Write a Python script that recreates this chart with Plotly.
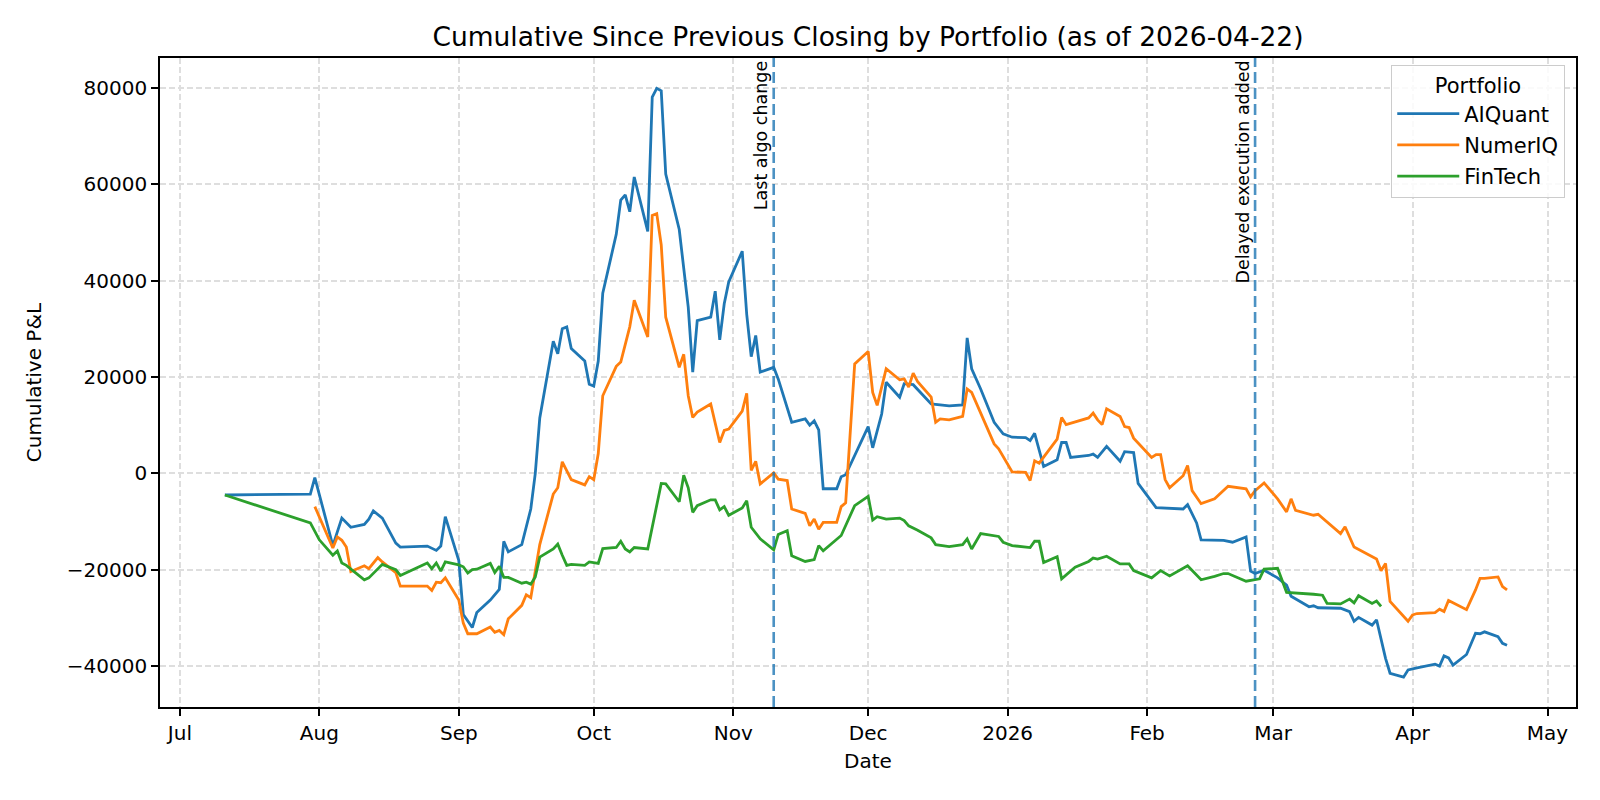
import plotly.graph_objects as go

# ---- data ----
aiquant_dates = [
    "2025-07-11", "2025-07-30", "2025-07-31", "2025-08-04", "2025-08-06", "2025-08-08", "2025-08-11",
    "2025-08-12", "2025-08-13", "2025-08-15", "2025-08-18", "2025-08-19", "2025-08-25", "2025-08-27",
    "2025-08-28", "2025-08-29", "2025-09-01", "2025-09-02", "2025-09-04", "2025-09-05", "2025-09-08",
    "2025-09-10", "2025-09-11", "2025-09-12", "2025-09-15", "2025-09-17", "2025-09-18", "2025-09-19",
    "2025-09-22", "2025-09-23", "2025-09-24", "2025-09-25", "2025-09-26", "2025-09-29", "2025-09-30",
    "2025-10-01", "2025-10-02", "2025-10-03", "2025-10-06", "2025-10-07", "2025-10-08", "2025-10-09",
    "2025-10-10", "2025-10-13", "2025-10-14", "2025-10-15", "2025-10-16", "2025-10-17", "2025-10-20",
    "2025-10-21", "2025-10-22", "2025-10-23", "2025-10-24", "2025-10-27", "2025-10-28", "2025-10-29",
    "2025-10-30", "2025-10-31", "2025-11-03", "2025-11-04", "2025-11-05", "2025-11-06", "2025-11-07",
    "2025-11-10", "2025-11-11", "2025-11-14", "2025-11-17", "2025-11-18", "2025-11-19", "2025-11-20",
    "2025-11-21", "2025-11-24", "2025-11-25", "2025-11-26", "2025-12-01", "2025-12-02", "2025-12-04",
    "2025-12-05", "2025-12-08", "2025-12-09", "2025-12-11", "2025-12-15", "2025-12-19", "2025-12-22",
    "2025-12-23", "2025-12-24", "2025-12-26", "2025-12-29", "2025-12-31", "2026-01-02", "2026-01-05",
    "2026-01-06", "2026-01-07", "2026-01-09", "2026-01-12", "2026-01-13", "2026-01-14", "2026-01-15",
    "2026-01-19", "2026-01-20", "2026-01-21", "2026-01-23", "2026-01-26", "2026-01-27", "2026-01-29",
    "2026-01-30", "2026-02-03", "2026-02-09", "2026-02-10", "2026-02-12", "2026-02-13", "2026-02-18",
    "2026-02-20", "2026-02-23", "2026-02-24", "2026-02-25", "2026-02-27", "2026-03-02", "2026-03-04",
    "2026-03-05", "2026-03-09", "2026-03-10", "2026-03-11", "2026-03-16", "2026-03-18", "2026-03-19",
    "2026-03-20", "2026-03-23", "2026-03-24", "2026-03-26", "2026-03-27", "2026-03-30", "2026-03-31",
    "2026-04-02", "2026-04-06", "2026-04-07", "2026-04-08", "2026-04-09", "2026-04-10", "2026-04-13",
    "2026-04-15", "2026-04-16", "2026-04-17", "2026-04-20", "2026-04-21", "2026-04-22",
]
aiquant_pnl = [
    -4500, -4300, -900, -15000, -9300, -11200, -10600,
    -9500, -7800, -9300, -14500, -15300, -15100, -16000,
    -15100, -9000, -18100, -29300, -32000, -28900, -26300,
    -24100, -14100, -16300, -14800, -7400, 0, 11500,
    27400, 24800, 30000, 30400, 25900, 23300, 18500,
    18100, 23300, 37400, 49600, 56700, 57800, 54300,
    61500, 50200, 78100, 79900, 79400, 62100, 50600,
    42000, 34500, 21000, 31700, 32400, 37800, 27700,
    35200, 39700, 46100, 33000, 24200, 28600, 21000,
    22000, 19600, 10600, 11300, 10000, 10900, 9000,
    -3200, -3200, -700, -300, 9700, 5300, 12300,
    18900, 15800, 18600, 18400, 14400, 14000, 14200,
    28100, 21700, 17500, 10600, 8200, 7500, 7400,
    6800, 8300, 1400, 2800, 6400, 6400, 3300,
    3700, 4000, 3300, 5600, 2500, 4500, 4300,
    -2100, -7100, -7400, -6500, -10300, -13800, -13900,
    -14300, -13200, -20300, -20800, -20100, -21700, -23200,
    -25500, -27700, -27500, -27900, -28000, -28700, -30700,
    -29900, -31500, -30400, -38400, -41500, -42300, -40800,
    -40400, -39600, -40000, -37900, -38300, -39800, -37600,
    -33200, -33300, -32900, -33900, -35300, -35700,
]

numeriq_dates = [
    "2025-07-31", "2025-08-04", "2025-08-05", "2025-08-06", "2025-08-07", "2025-08-08", "2025-08-11",
    "2025-08-12", "2025-08-14", "2025-08-15", "2025-08-18", "2025-08-19", "2025-08-25", "2025-08-26",
    "2025-08-27", "2025-08-28", "2025-08-29", "2025-09-01", "2025-09-02", "2025-09-03", "2025-09-05",
    "2025-09-08", "2025-09-09", "2025-09-10", "2025-09-11", "2025-09-12", "2025-09-15", "2025-09-16",
    "2025-09-17", "2025-09-18", "2025-09-19", "2025-09-22", "2025-09-23", "2025-09-24", "2025-09-26",
    "2025-09-29", "2025-09-30", "2025-10-01", "2025-10-02", "2025-10-03", "2025-10-06", "2025-10-07",
    "2025-10-08", "2025-10-09", "2025-10-10", "2025-10-13", "2025-10-14", "2025-10-15", "2025-10-16",
    "2025-10-17", "2025-10-20", "2025-10-21", "2025-10-22", "2025-10-23", "2025-10-24", "2025-10-27",
    "2025-10-29", "2025-10-30", "2025-10-31", "2025-11-03", "2025-11-04", "2025-11-05", "2025-11-06",
    "2025-11-07", "2025-11-10", "2025-11-11", "2025-11-13", "2025-11-14", "2025-11-17", "2025-11-18",
    "2025-11-19", "2025-11-20", "2025-11-21", "2025-11-24", "2025-11-25", "2025-11-26", "2025-11-28",
    "2025-12-01", "2025-12-02", "2025-12-03", "2025-12-05", "2025-12-08", "2025-12-09", "2025-12-10",
    "2025-12-11", "2025-12-12", "2025-12-15", "2025-12-16", "2025-12-17", "2025-12-19", "2025-12-22",
    "2025-12-23", "2025-12-24", "2025-12-26", "2025-12-29", "2025-12-30", "2026-01-02", "2026-01-05",
    "2026-01-06", "2026-01-07", "2026-01-08", "2026-01-12", "2026-01-13", "2026-01-14", "2026-01-15",
    "2026-01-19", "2026-01-20", "2026-01-21", "2026-01-22", "2026-01-23", "2026-01-26", "2026-01-27",
    "2026-01-28", "2026-01-29", "2026-02-02", "2026-02-03", "2026-02-04", "2026-02-05", "2026-02-06",
    "2026-02-09", "2026-02-10", "2026-02-11", "2026-02-13", "2026-02-16", "2026-02-19", "2026-02-23",
    "2026-02-24", "2026-02-25", "2026-02-27", "2026-03-02", "2026-03-04", "2026-03-05", "2026-03-06",
    "2026-03-10", "2026-03-11", "2026-03-16", "2026-03-17", "2026-03-19", "2026-03-24", "2026-03-25",
    "2026-03-26", "2026-03-27", "2026-03-31", "2026-04-01", "2026-04-02", "2026-04-06", "2026-04-07",
    "2026-04-08", "2026-04-09", "2026-04-13", "2026-04-15", "2026-04-16", "2026-04-17", "2026-04-20",
    "2026-04-21", "2026-04-22",
]
numeriq_pnl = [
    -6900, -15500, -13200, -13900, -15300, -20400, -19200,
    -19800, -17500, -18400, -20600, -23400, -23400, -24300,
    -22600, -22700, -21700, -26300, -31100, -33300, -33300,
    -31900, -33000, -32600, -33500, -30200, -27400, -25200,
    -25800, -20700, -14800, -4300, -3000, 2400, -1300,
    -2400, -700, -1300, 4100, 16100, 22200, 23100,
    26700, 30400, 35900, 28300, 53500, 53900, 47400,
    32400, 22000, 24700, 16100, 11600, 12700, 14400,
    6400, 8900, 9200, 12900, 16600, 600, 2500,
    -2200, 100, -1200, -1500, -7400, -8300, -10900,
    -9500, -11600, -10200, -10200, -6900, -6100, 22700,
    25300, 16800, 14100, 21700, 19400, 19600, 17900,
    20800, 19000, 15800, 10600, 11300, 11100, 11800,
    17500, 16800, 12500, 6100, 5100, 300, 200,
    -1500, 2600, 2100, 7100, 11600, 10100, 10400,
    11500, 12500, 11100, 10100, 13400, 11800, 9700,
    9500, 7300, 3300, 3900, 3900, -1300, -3000,
    -500, 1600, -3600, -6300, -5300, -2700, -3200,
    -4900, -3600, -2000, -5300, -8000, -5300, -7700,
    -8700, -8500, -12500, -11100, -15300, -17800, -20200,
    -18700, -26600, -30700, -29400, -29100, -28900, -28200,
    -28700, -26400, -28300, -24200, -21800, -21800, -21500,
    -23500, -24200,
]

fintech_dates = [
    "2025-07-11", "2025-07-30", "2025-08-01", "2025-08-04", "2025-08-05", "2025-08-06", "2025-08-07",
    "2025-08-11", "2025-08-12", "2025-08-14", "2025-08-15", "2025-08-18", "2025-08-19", "2025-08-25",
    "2025-08-26", "2025-08-27", "2025-08-28", "2025-08-29", "2025-09-01", "2025-09-02", "2025-09-03",
    "2025-09-04", "2025-09-05", "2025-09-08", "2025-09-09", "2025-09-10", "2025-09-11", "2025-09-12",
    "2025-09-15", "2025-09-16", "2025-09-17", "2025-09-18", "2025-09-19", "2025-09-22", "2025-09-23",
    "2025-09-24", "2025-09-25", "2025-09-26", "2025-09-29", "2025-09-30", "2025-10-02", "2025-10-03",
    "2025-10-06", "2025-10-07", "2025-10-08", "2025-10-09", "2025-10-10", "2025-10-13", "2025-10-16",
    "2025-10-17", "2025-10-20", "2025-10-21", "2025-10-22", "2025-10-23", "2025-10-24", "2025-10-27",
    "2025-10-28", "2025-10-29", "2025-10-30", "2025-10-31", "2025-11-03", "2025-11-04", "2025-11-05",
    "2025-11-07", "2025-11-10", "2025-11-11", "2025-11-13", "2025-11-14", "2025-11-17", "2025-11-19",
    "2025-11-20", "2025-11-21", "2025-11-24", "2025-11-25", "2025-11-28", "2025-12-01", "2025-12-02",
    "2025-12-03", "2025-12-05", "2025-12-08", "2025-12-09", "2025-12-10", "2025-12-12", "2025-12-15",
    "2025-12-16", "2025-12-19", "2025-12-22", "2025-12-23", "2025-12-24", "2025-12-26", "2025-12-30",
    "2025-12-31", "2026-01-02", "2026-01-06", "2026-01-07", "2026-01-08", "2026-01-09", "2026-01-12",
    "2026-01-13", "2026-01-16", "2026-01-19", "2026-01-20", "2026-01-21", "2026-01-23", "2026-01-26",
    "2026-01-28", "2026-01-29", "2026-02-02", "2026-02-04", "2026-02-06", "2026-02-10", "2026-02-13",
    "2026-02-16", "2026-02-18", "2026-02-19", "2026-02-23", "2026-02-26", "2026-02-27", "2026-03-02",
    "2026-03-04", "2026-03-10", "2026-03-12", "2026-03-13", "2026-03-16", "2026-03-18", "2026-03-19",
    "2026-03-20", "2026-03-23", "2026-03-24", "2026-03-25",
]
fintech_pnl = [
    -4500, -10300, -13800, -17000, -16100, -18600, -19100,
    -22100, -21700, -19700, -18900, -20000, -21200, -18600,
    -19800, -18600, -20300, -18400, -19000, -19400, -20700,
    -20000, -19900, -18700, -20600, -19300, -21600, -21600,
    -22800, -22600, -23000, -21500, -17400, -15700, -14700,
    -17000, -19100, -18900, -19100, -18400, -18700, -15600,
    -15400, -14100, -15700, -16300, -15400, -15700, -2100,
    -2200, -5900, -400, -3000, -8100, -6700, -5500,
    -5500, -7600, -6900, -8700, -7200, -5700, -11200,
    -13600, -15900, -12700, -11900, -17100, -18300, -17900,
    -15000, -16100, -13600, -12900, -6700, -4800, -9700,
    -9000, -9500, -9300, -9800, -10900, -11800, -13400,
    -14800, -15200, -14800, -13600, -15700, -12500, -13100,
    -14300, -15000, -15400, -14100, -14100, -18500, -17300,
    -21900, -19500, -18300, -17600, -17800, -17200, -18800,
    -18800, -20200, -21700, -20200, -21300, -19200, -22100,
    -21400, -20800, -20800, -22400, -21900, -19900, -19700,
    -24700, -25100, -25300, -27000, -27100, -26100, -26900,
    -25400, -27000, -26500, -27600,
]

portfolios = ["AIQuant", "NumerIQ", "FinTech"]
series_dates = [aiquant_dates, numeriq_dates, fintech_dates]
series_pnl = [aiquant_pnl, numeriq_pnl, fintech_pnl]
colors = ["#1f77b4", "#ff7f0e", "#2ca02c"]

event_dates = ["2025-11-10", "2026-02-25"]
event_labels = ["Last algo change", "Delayed execution added"]

month_ticks = ["2025-07-01", "2025-08-01", "2025-09-01", "2025-10-01", "2025-11-01", "2025-12-01",
               "2026-01-01", "2026-02-01", "2026-03-01", "2026-04-01", "2026-05-01"]
month_labels = ["Jul", "Aug", "Sep", "Oct", "Nov", "Dec", "2026", "Feb", "Mar", "Apr", "May"]
y_ticks = [-40000, -20000, 0, 20000, 40000, 60000, 80000]

FONT = "DejaVu Sans"

# the page body adds an 8px margin, so the figure is 8px smaller and margins are shifted
W, H = 1592, 792

fig = go.Figure()
for name, xs, ys, c in zip(portfolios, series_dates, series_pnl, colors):
    fig.add_trace(go.Scatter(x=xs, y=ys, mode="lines", name=name, legendgroup=name,
                             line=dict(color=c, width=2.8)))

for d, label in zip(event_dates, event_labels):
    fig.add_shape(type="line", x0=d, x1=d, xref="x", y0=0, y1=1, yref="paper",
                  line=dict(color="rgba(31,119,180,0.8)", width=2.6, dash="11px,5px"))
    fig.add_annotation(x=d, y=1, xref="x", yref="paper", text=label, textangle=-90,
                       showarrow=False, xanchor="right", yanchor="top", xshift=-1, yshift=-1,
                       font=dict(family=FONT, size=17.5, color="black"))

axis_common = dict(showline=True, linecolor="black", linewidth=1.7, mirror=True,
                   ticks="outside", ticklen=7, tickwidth=1.7, tickcolor="black",
                   showgrid=True, gridcolor="#dedede", gridwidth=1.5, griddash="6px,3px",
                   zeroline=False, tickfont=dict(family=FONT, size=20, color="black"))

fig.update_xaxes(axis_common, type="date",
                 range=["2025-06-26 14:00", "2026-05-07 08:00"],
                 tickvals=month_ticks, ticktext=month_labels,
                 title=dict(text="Date", font=dict(family=FONT, size=20, color="black"), standoff=10))
fig.update_yaxes(axis_common, range=[-48500, 86200], tickvals=y_ticks, tickformat="d",
                 title=dict(text="Cumulative P&L", font=dict(family=FONT, size=20, color="black"),
                            standoff=20))

fig.update_layout(
    width=W, height=H,
    margin=dict(l=152, r=24, t=50, b=93),
    paper_bgcolor="white", plot_bgcolor="white",
    font=dict(family=FONT, size=20, color="black"),
    title=dict(text="Cumulative Since Previous Closing by Portfolio (as of 2026-04-22)",
               x=0.5, xref="paper", xanchor="center", y=1 - 29 / H, yref="container",
               yanchor="middle", font=dict(family=FONT, size=26.5, color="black")),
    legend=dict(x=0.9922, y=0.9895, xanchor="right", yanchor="top",
                bgcolor="rgba(255,255,255,0.85)", bordercolor="#cccccc", borderwidth=1.3,
                itemwidth=62, tracegroupgap=1,
                font=dict(family=FONT, size=21, color="black"),
                title=dict(text="Portfolio", side="top center",
                           font=dict(family=FONT, size=21, color="black"))),
    showlegend=True,
)

fig.write_html("out.html")
